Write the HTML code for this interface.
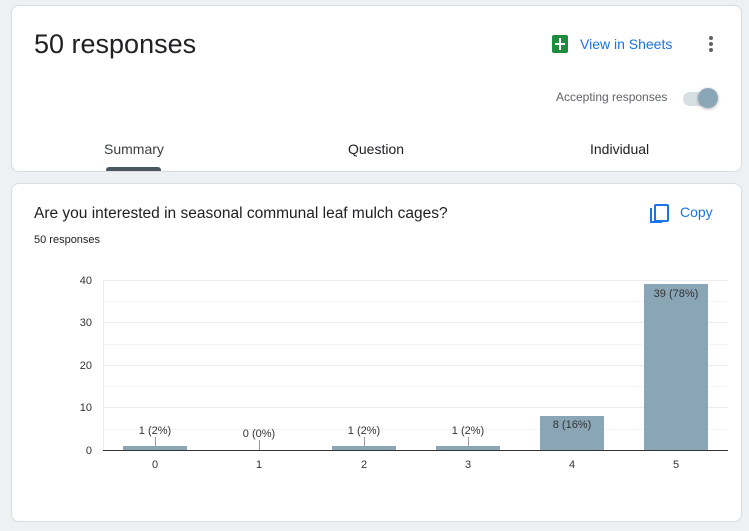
<!DOCTYPE html>
<html><head><meta charset="utf-8"><style>
body{margin:0;width:749px;height:531px;background:#edf1f4;font-family:"Liberation Sans",Arial,sans-serif;position:relative;overflow:hidden}
.card{position:absolute;left:11px;width:729px;background:#fff;border:1px solid #dadce0;border-radius:8px}
.t{position:absolute;white-space:nowrap}
</style></head><body>
<div class="card" style="top:5px;height:165px">
 <div class="t" style="left:22px;top:23px;font-size:27px;color:#202124">50 responses</div>
 <div style="position:absolute;left:540px;top:29px;width:16px;height:18px;background:#1e8e3e;border-radius:2px"></div>
 <div style="position:absolute;left:547px;top:32px;width:2px;height:12px;background:#fff"></div>
 <div style="position:absolute;left:543px;top:37px;width:10px;height:2px;background:#fff"></div>
 <div class="t" style="left:568px;top:30px;font-size:14px;color:#1a73e8">View in Sheets</div>
 <div style="position:absolute;left:697px;top:30px;width:4px;height:4px;border-radius:2px;background:#5f6368;box-shadow:0 6px 0 #5f6368,0 12px 0 #5f6368"></div>
 <div class="t" style="left:544px;top:84px;font-size:12px;color:#5f6368">Accepting responses</div>
 <div style="position:absolute;left:671px;top:86px;width:34px;height:14px;border-radius:7px;background:#d6dfe4"></div>
 <div style="position:absolute;left:686px;top:82px;width:20px;height:20px;border-radius:10px;background:#8ba6b6;box-shadow:0 1px 3px rgba(0,0,0,.3)"></div>
 <div class="t" style="left:92px;top:135px;font-size:14px;color:#3c4043">Summary</div>
 <div style="position:absolute;left:94px;top:161px;width:55px;height:4px;background:#4a5860;border-radius:3px 3px 0 0"></div>
 <div class="t" style="left:336px;top:135px;font-size:14px;color:#202124">Question</div>
 <div class="t" style="left:578px;top:135px;font-size:14px;color:#202124">Individual</div>
</div>
<div class="card" style="top:183px;height:337px">
 <div class="t" style="left:22px;top:21px;font-size:15.5px;color:#202124">Are you interested in seasonal communal leaf mulch cages?</div>
 <div class="t" style="left:22px;top:50px;font-size:11px;color:#202124">50 responses</div>
 <div style="position:absolute;left:642px;top:20px;width:11px;height:14px;border:2px solid #1a73e8;border-radius:2px"></div>
 <div style="position:absolute;left:638px;top:24px;width:2px;height:14px;background:#1a73e8"></div>
 <div style="position:absolute;left:638px;top:37px;width:12px;height:2px;background:#1a73e8"></div>
 <div class="t" style="left:668px;top:20px;font-size:14px;color:#1a73e8">Copy</div>
</div>
<svg style="position:absolute;left:0;top:0" width="749" height="531" font-family="Liberation Sans,Arial,sans-serif" font-size="11" fill="#333">
 <g stroke="#ebebeb" stroke-width="1">
  <line x1="103" x2="728" y1="280.5" y2="280.5"/><line x1="103" x2="728" y1="301.5" y2="301.5" stroke="#f4f4f4"/>
  <line x1="103" x2="728" y1="322.5" y2="322.5"/><line x1="103" x2="728" y1="344.5" y2="344.5" stroke="#f4f4f4"/>
  <line x1="103" x2="728" y1="365.5" y2="365.5"/><line x1="103" x2="728" y1="386.5" y2="386.5" stroke="#f4f4f4"/>
  <line x1="103" x2="728" y1="407.5" y2="407.5"/><line x1="103" x2="728" y1="429.5" y2="429.5" stroke="#f4f4f4"/>
  <line x1="103.5" x2="103.5" y1="280" y2="450"/>
 </g>
 <g text-anchor="end"><text x="92" y="284">40</text><text x="92" y="326">30</text><text x="92" y="369">20</text><text x="92" y="411">10</text><text x="92" y="454">0</text></g>
 <g fill="#8aa6b6">
  <rect x="123" y="446" width="64" height="4"/><rect x="332" y="446" width="64" height="4"/>
  <rect x="436" y="446" width="64" height="4"/><rect x="540" y="416" width="64" height="34"/>
  <rect x="644" y="284" width="64" height="166"/>
 </g>
 <g stroke="#999"><line x1="155.5" x2="155.5" y1="437" y2="446"/><line x1="259.5" x2="259.5" y1="440" y2="450"/><line x1="364.5" x2="364.5" y1="437" y2="446"/><line x1="468.5" x2="468.5" y1="437" y2="446"/></g>
 <line x1="103" x2="728" y1="450.5" y2="450.5" stroke="#333"/>
 <g text-anchor="middle">
  <text x="155" y="434">1 (2%)</text><text x="259" y="437">0 (0%)</text><text x="364" y="434">1 (2%)</text><text x="468" y="434">1 (2%)</text>
  <text x="572" y="428">8 (16%)</text><text x="676" y="297">39 (78%)</text>
  <text x="155" y="468">0</text><text x="259" y="468">1</text><text x="364" y="468">2</text><text x="468" y="468">3</text><text x="572" y="468">4</text><text x="676" y="468">5</text>
 </g>
</svg>
</body></html>
